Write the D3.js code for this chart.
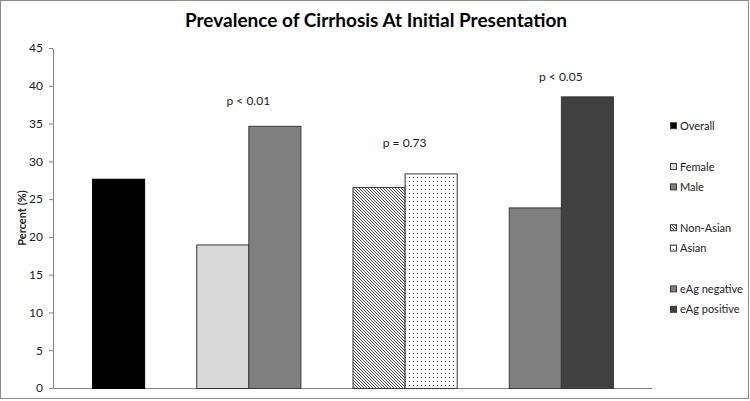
<!DOCTYPE html>
<html>
<head>
<meta charset="utf-8">
<script src="https://cdn.jsdelivr.net/npm/d3@7"></script>
<style>
  body { margin: 0; background: #fff; }
  svg { display: block; font-family: Lato, "Liberation Sans", sans-serif; }
</style>
</head>
<body>
<svg id="chart"></svg>
<script>
// Data
const groups = [
  ["Overall"],
  ["Female", "Male"],
  ["Non-Asian", "Asian"],
  ["eAg negative", "eAg positive"]
];
const seriesNames = ["Overall", "Female", "Male", "Non-Asian", "Asian", "eAg negative", "eAg positive"];
const seriesValues = [27.7, 19.0, 34.7, 26.6, 28.4, 23.9, 38.6];
const pLabels = ["", "p < 0.01", "p = 0.73", "p < 0.05"];
const pLabelLevels = [0, 37.4, 31.9, 40.6]; // percent level where each p text sits
const yTicks = [0, 5, 10, 15, 20, 25, 30, 35, 40, 45];

const width = 750, height = 401;
const plot = { left: 53, right: 652, top: 48, bottom: 388 };

const svg = d3.select("#chart").attr("width", width).attr("height", height);

// outer chart border (Excel chart area)
svg.append("rect")
  .attr("x", 0.5).attr("y", 0.5)
  .attr("width", width - 2).attr("height", height - 3)
  .attr("fill", "#fff").attr("stroke", "#8c8c8c");

// --- patterns ---
const defs = svg.append("defs");
const hatch = defs.append("pattern")
  .attr("id", "hatch").attr("patternUnits", "userSpaceOnUse")
  .attr("width", 3).attr("height", 3);
hatch.append("rect").attr("width", 3).attr("height", 3).attr("fill", "#fff");
hatch.append("path").attr("d", "M-1,-1 L4,4 M-1,2 L1,4 M2,-1 L4,1")
  .attr("stroke", "#333").attr("stroke-width", 0.9);

const dots = defs.append("pattern")
  .attr("id", "dots").attr("patternUnits", "userSpaceOnUse")
  .attr("width", 4).attr("height", 4);
dots.append("rect").attr("width", 4).attr("height", 4).attr("fill", "#fff");
dots.append("rect").attr("x", 1).attr("y", 1).attr("width", 1).attr("height", 1).attr("fill", "#333");

const fills = {
  "Overall": "#000000",
  "Female": "#d9d9d9",
  "Male": "#808080",
  "Non-Asian": "url(#hatch)",
  "Asian": "url(#dots)",
  "eAg negative": "#808080",
  "eAg positive": "#404040"
};

// slots: bars of each group, with an empty spacer slot between groups
const slots = [];
groups.forEach((g, i) => {
  if (i > 0) slots.push("gap" + i);
  g.forEach(s => slots.push(s));
});

const x = d3.scaleBand()
  .domain(slots)
  .range([plot.left, plot.right])
  .paddingInner(0)
  .paddingOuter(0.75);

const y = d3.scaleLinear()
  .domain([0, 45])
  .range([plot.bottom, plot.top]);

// --- y axis ---
const yAxis = svg.append("g")
  .attr("transform", `translate(${plot.left},0)`)
  .call(d3.axisLeft(y).tickValues(yTicks).tickSize(4).tickSizeOuter(0).tickPadding(6));
yAxis.select(".domain").attr("stroke", "#868686");
yAxis.selectAll(".tick line").attr("stroke", "#868686");
yAxis.selectAll("text")
  .attr("fill", "#222")
  .style("font-size", "12px")
  .style("font-family", "Lato, sans-serif");

// baseline
svg.append("line")
  .attr("x1", plot.left).attr("x2", plot.right)
  .attr("y1", y(0) + 0.5).attr("y2", y(0) + 0.5)
  .attr("stroke", "#868686");

// --- bars ---
const barData = seriesNames.map((name, i) => ({ name, value: seriesValues[i] }));
svg.append("g").selectAll("rect")
  .data(barData)
  .join("rect")
  .attr("x", d => x(d.name) + 0.5)
  .attr("y", d => y(d.value) + 0.5)
  .attr("width", x.bandwidth())
  .attr("height", d => y(0) - y(d.value))
  .attr("fill", d => fills[d.name])
  .attr("stroke", d => d.name === "Overall" ? "#000" : "#3a3a3a")
  .attr("stroke-width", 1);

// --- p-value labels above each group ---
groups.forEach((g, i) => {
  if (!pLabels[i]) return;
  const x0 = x(g[0]);
  const x1 = x(g[g.length - 1]) + x.bandwidth();
  svg.append("text")
    .attr("x", (x0 + x1) / 2)
    .attr("y", y(pLabelLevels[i]))
    .attr("text-anchor", "middle")
    .style("font-size", "12px")
    .attr("fill", "#222")
    .text(pLabels[i]);
});

// --- title ---
svg.append("text")
  .attr("x", 376).attr("y", 27)
  .attr("text-anchor", "middle")
  .style("font-size", "19px")
  .style("font-weight", "bold")
  .attr("fill", "#000")
  .text("Prevalence of Cirrhosis At Initial Presentation");

// --- y axis title ---
svg.append("text")
  .attr("transform", "translate(26,218) rotate(-90)")
  .attr("text-anchor", "middle")
  .style("font-size", "11px")
  .style("font-weight", "bold")
  .attr("fill", "#222")
  .text("Percent (%)");

// --- legend (spacer slots leave blank rows, like the original) ---
const legendTop = 125.7, legendStep = 20.4;
const legend = svg.append("g");
slots.forEach((s, i) => {
  if (!seriesNames.includes(s)) return;
  const cy = legendTop + i * legendStep;
  legend.append("rect")
    .attr("x", 670.5).attr("y", cy - 3)
    .attr("width", 6).attr("height", 6)
    .attr("fill", fills[s])
    .attr("stroke", "#3a3a3a").attr("stroke-width", 1);
  legend.append("text")
    .attr("x", 680).attr("y", cy + 4)
    .style("font-size", "11px")
    .attr("fill", "#222")
    .text(s);
});
</script>
</body>
</html>
